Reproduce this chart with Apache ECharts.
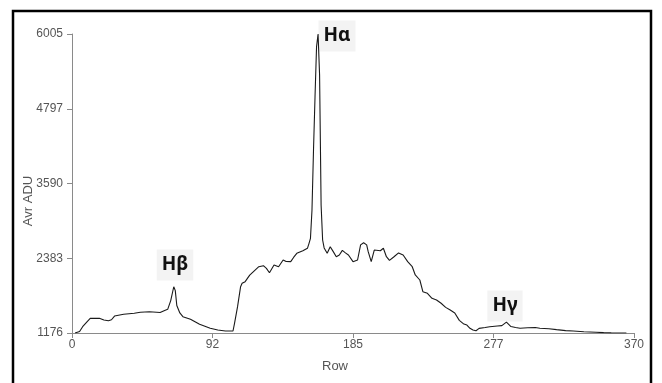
<!DOCTYPE html>
<html>
<head>
<meta charset="utf-8">
<script src="https://cdn.jsdelivr.net/npm/echarts@6/dist/echarts.min.js"></script>
<style>
html, body { margin: 0; padding: 0; background: #fff; }
#chart { width: 662px; height: 383px; }
</style>
</head>
<body>
<div id="chart"></div>
<script>
var dom = document.getElementById('chart');
var myChart = echarts.init(dom, null, { renderer: 'canvas' });

// spectrum profile
let rows = [2, 5, 7, 10, 12, 18, 21, 24, 26, 28, 34, 41, 45, 51, 58, 61, 63, 65, 67, 68,
    69, 71, 73, 78, 84, 91, 96, 101, 106, 107, 109, 111, 112, 114, 117, 120, 123, 126, 128, 130,
    133, 136, 139, 141, 144, 146, 148, 152, 155, 156, 157, 158, 159, 160, 161, 162, 163, 164, 165, 166,
    168, 170, 172, 174, 176, 178, 180, 182, 185, 188, 190, 192, 194, 195, 197, 199, 203, 205, 207, 209,
    212, 215, 218, 221, 224, 226, 229, 231, 234, 237, 240, 243, 246, 249, 252, 255, 258, 260, 262, 264,
    266, 268, 272, 275, 280, 283, 286, 289, 292, 295, 300, 305, 308, 314, 319, 325, 330, 337, 345, 350,
    355, 362, 365];
let adu = [1176, 1200, 1278, 1360, 1413, 1413, 1385, 1375, 1390, 1450, 1478, 1494, 1510, 1520, 1508, 1540, 1558, 1700, 1923, 1860,
    1620, 1500, 1440, 1397, 1316, 1252, 1224, 1208, 1208, 1333, 1601, 1924, 1978, 2005, 2110, 2180, 2247, 2263, 2220, 2150,
    2274, 2247, 2355, 2330, 2328, 2400, 2463, 2505, 2544, 2620, 2705, 3162, 4131, 4992, 5800, 6005, 5343, 3243, 2678, 2550,
    2463, 2570, 2490, 2408, 2436, 2510, 2470, 2436, 2328, 2355, 2600, 2634, 2600, 2490, 2328, 2516, 2505, 2544, 2408, 2350,
    2408, 2470, 2436, 2328, 2247, 2113, 2032, 1843, 1817, 1737, 1710, 1656, 1590, 1547, 1500, 1380, 1320, 1305, 1252, 1224,
    1213, 1250, 1265, 1278, 1289, 1295, 1352, 1280, 1265, 1252, 1262, 1265, 1252, 1245, 1230, 1215, 1208, 1195, 1188, 1182,
    1178, 1176, 1176];

let xTicks = [0, 92, 185, 277, 370];
let yTicks = [1176, 2383, 3590, 4797, 6005];
let lines = ['Hα', 'Hβ', 'Hγ'];

let seriesData = rows.map(function (r, i) { return [r, adu[i]]; });

var axisGray = '#8a8a8a';
var labelFont = {
    color: '#555',
    fontSize: 12,
    fontFamily: 'Liberation Sans, sans-serif'
};

function tag(text, x, y) {
    return {
        type: 'text',
        x: x,
        y: y,
        style: {
            text: text,
            align: 'center',
            verticalAlign: 'middle',
            fill: '#111',
            font: 'bold 19px "Noto Sans", "Open Sans", sans-serif',
            backgroundColor: '#f3f3f3',
            padding: [6, 5, 6, 5]
        }
    };
}

var option = {
    animation: false,
    backgroundColor: '#fff',
    grid: {
        left: 72,
        right: 28,
        top: 34,
        bottom: 50,
        containLabel: false,
        outerBoundsMode: 'none'
    },
    xAxis: {
        type: 'value',
        min: xTicks[0],
        max: xTicks[xTicks.length - 1],
        interval: (xTicks[4] - xTicks[0]) / 4,
        splitLine: { show: false },
        axisLine: { lineStyle: { color: axisGray, width: 1 } },
        axisTick: { show: true, length: 5, lineStyle: { color: axisGray } },
        axisLabel: Object.assign({
            margin: 6,
            formatter: function (v) { return String(Math.floor(v + 1e-6)); }
        }, labelFont)
    },
    yAxis: {
        type: 'value',
        min: yTicks[0],
        max: yTicks[yTicks.length - 1],
        interval: (yTicks[4] - yTicks[0]) / 4,
        splitLine: { show: false },
        axisLine: { show: true, lineStyle: { color: axisGray, width: 1 } },
        axisTick: { show: true, length: 5, lineStyle: { color: axisGray } },
        axisLabel: Object.assign({
            margin: 9,
            formatter: function (v) { return String(Math.floor(v + 1e-6)); }
        }, labelFont)
    },
    series: [
        {
            type: 'line',
            data: seriesData,
            showSymbol: false,
            symbol: 'none',
            lineStyle: { color: '#1a1a1a', width: 1.1 },
            z: 3
        }
    ],
    graphic: [
        {
            type: 'rect',
            shape: { x: 13, y: 11, width: 638, height: 400 },
            style: { fill: null, stroke: '#000', lineWidth: 2.5 },
            silent: true
        },
        {
            type: 'text',
            x: 28,
            y: 201,
            rotation: Math.PI / 2,
            style: {
                text: 'Avr ADU',
                align: 'center',
                verticalAlign: 'middle',
                fill: '#555',
                font: '13px "Liberation Sans", sans-serif'
            }
        },
        {
            type: 'text',
            x: 335,
            y: 366,
            style: {
                text: 'Row',
                align: 'center',
                verticalAlign: 'middle',
                fill: '#555',
                font: '13px "Liberation Sans", sans-serif'
            }
        },
        tag(lines[0], 337, 36),
        tag(lines[1], 175, 265),
        tag(lines[2], 505, 306)
    ]
};

if (option && typeof option === 'object') {
    myChart.setOption(option);
}
window.addEventListener('resize', myChart.resize);
</script>
</body>
</html>
